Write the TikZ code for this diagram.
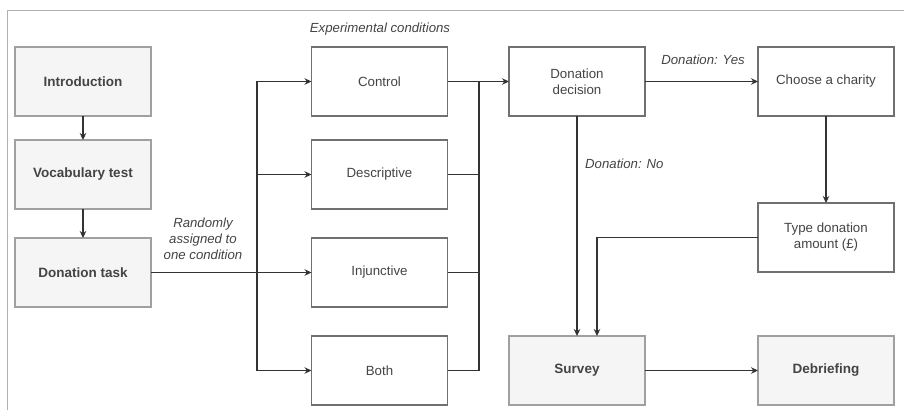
\documentclass[tikz,border=0pt]{standalone}
\usepackage{fontspec}
\setmainfont{Liberation Sans}
\usetikzlibrary{arrows.meta}
\definecolor{txt}{HTML}{444444}
\definecolor{ln}{HTML}{333333}
\definecolor{bxd}{HTML}{707070}
\definecolor{bxl}{HTML}{A0A0A0}
\definecolor{gfill}{HTML}{F5F5F5}
\definecolor{frame}{HTML}{B0B0B0}
\tikzset{
  base/.style={minimum width=136pt, minimum height=69pt, inner sep=2pt, outer sep=0pt, align=center, text=txt, font=\fontsize{13.3}{16}\selectfont, line width=1.2pt},
  wbox/.style={base, draw=bxd, fill=white},
  gbox/.style={base, draw=bxl, fill=gfill, font=\fontsize{13.5}{16}\selectfont\bfseries},
  conn/.style={draw=ln, line width=1.1pt},
  arr/.style={conn, -{Stealth[length=7pt,width=6.5pt]}},
  lbl/.style={text=txt, font=\fontsize{13.2}{16}\selectfont\itshape, align=center, inner sep=0pt}
}
\begin{document}
\begin{tikzpicture}[x=1pt,y=-1pt]
\useasboundingbox (0,0) rectangle (904,410);
\draw[frame, line width=1pt] (7,410) -- (7,10) -- (904,10);
% nodes
\node[gbox] (intro) at (83,81.5) {Introduction};
\node[gbox] (vocab) at (83,174.5) {Vocabulary test};
\node[gbox] (task) at (83,272.5) {Donation task};
\node[wbox] (control) at (379.5,81.5) {Control};
\node[wbox] (desc) at (379.5,174.5) {Descriptive};
\node[wbox] (inj) at (379.5,272.5) {Injunctive};
\node[wbox] (both) at (379.5,370.5) {Both};
\node[wbox] (dec) at (577,81.5) {Donation\\decision};
\node[wbox] (charity) at (826,81.5) {Choose a charity};
\node[wbox] (type) at (826,237.5) {Type donation\\amount (£)};
\node[gbox] (survey) at (577,370.5) {Survey};
\node[gbox] (debrief) at (826,370.5) {Debriefing};
% labels
\node[lbl] (explbl) at (380,29) {Experimental conditions};
\node[lbl] (randlbl) at (203,239) {Randomly\\assigned to\\one condition};
\node[lbl] (yeslbl) at (703,60) {Donation: Yes};
\node[lbl, anchor=west] (nolbl) at (585,164) {Donation: No};
% coordinates
\coordinate (bx) at (257,272.5);
\coordinate (mx) at (479,81.5);
\coordinate (tx) at (597,370.5);
% connectors
\draw[arr] (intro) -- (vocab);
\draw[arr] (vocab) -- (task);
\draw[arr] (task.east) -- (inj.west);
\draw[arr] (bx) |- (control.west);
\draw[arr] (bx) |- (desc.west);
\draw[arr] (bx) |- (both.west);
\draw[arr] (control.east) -- (dec.west);
\draw[conn] (desc.east) -| (mx);
\draw[conn] (inj.east) -| (mx);
\draw[conn] (both.east) -| (mx);
\draw[arr] (dec.east) -- (charity.west);
\draw[arr] (dec.south) -- (survey.north);
\draw[arr] (charity.south) -- (type.north);
\draw[arr] (type.west) -| (tx |- survey.north);
\draw[arr] (survey.east) -- (debrief.west);
\end{tikzpicture}
\end{document}
